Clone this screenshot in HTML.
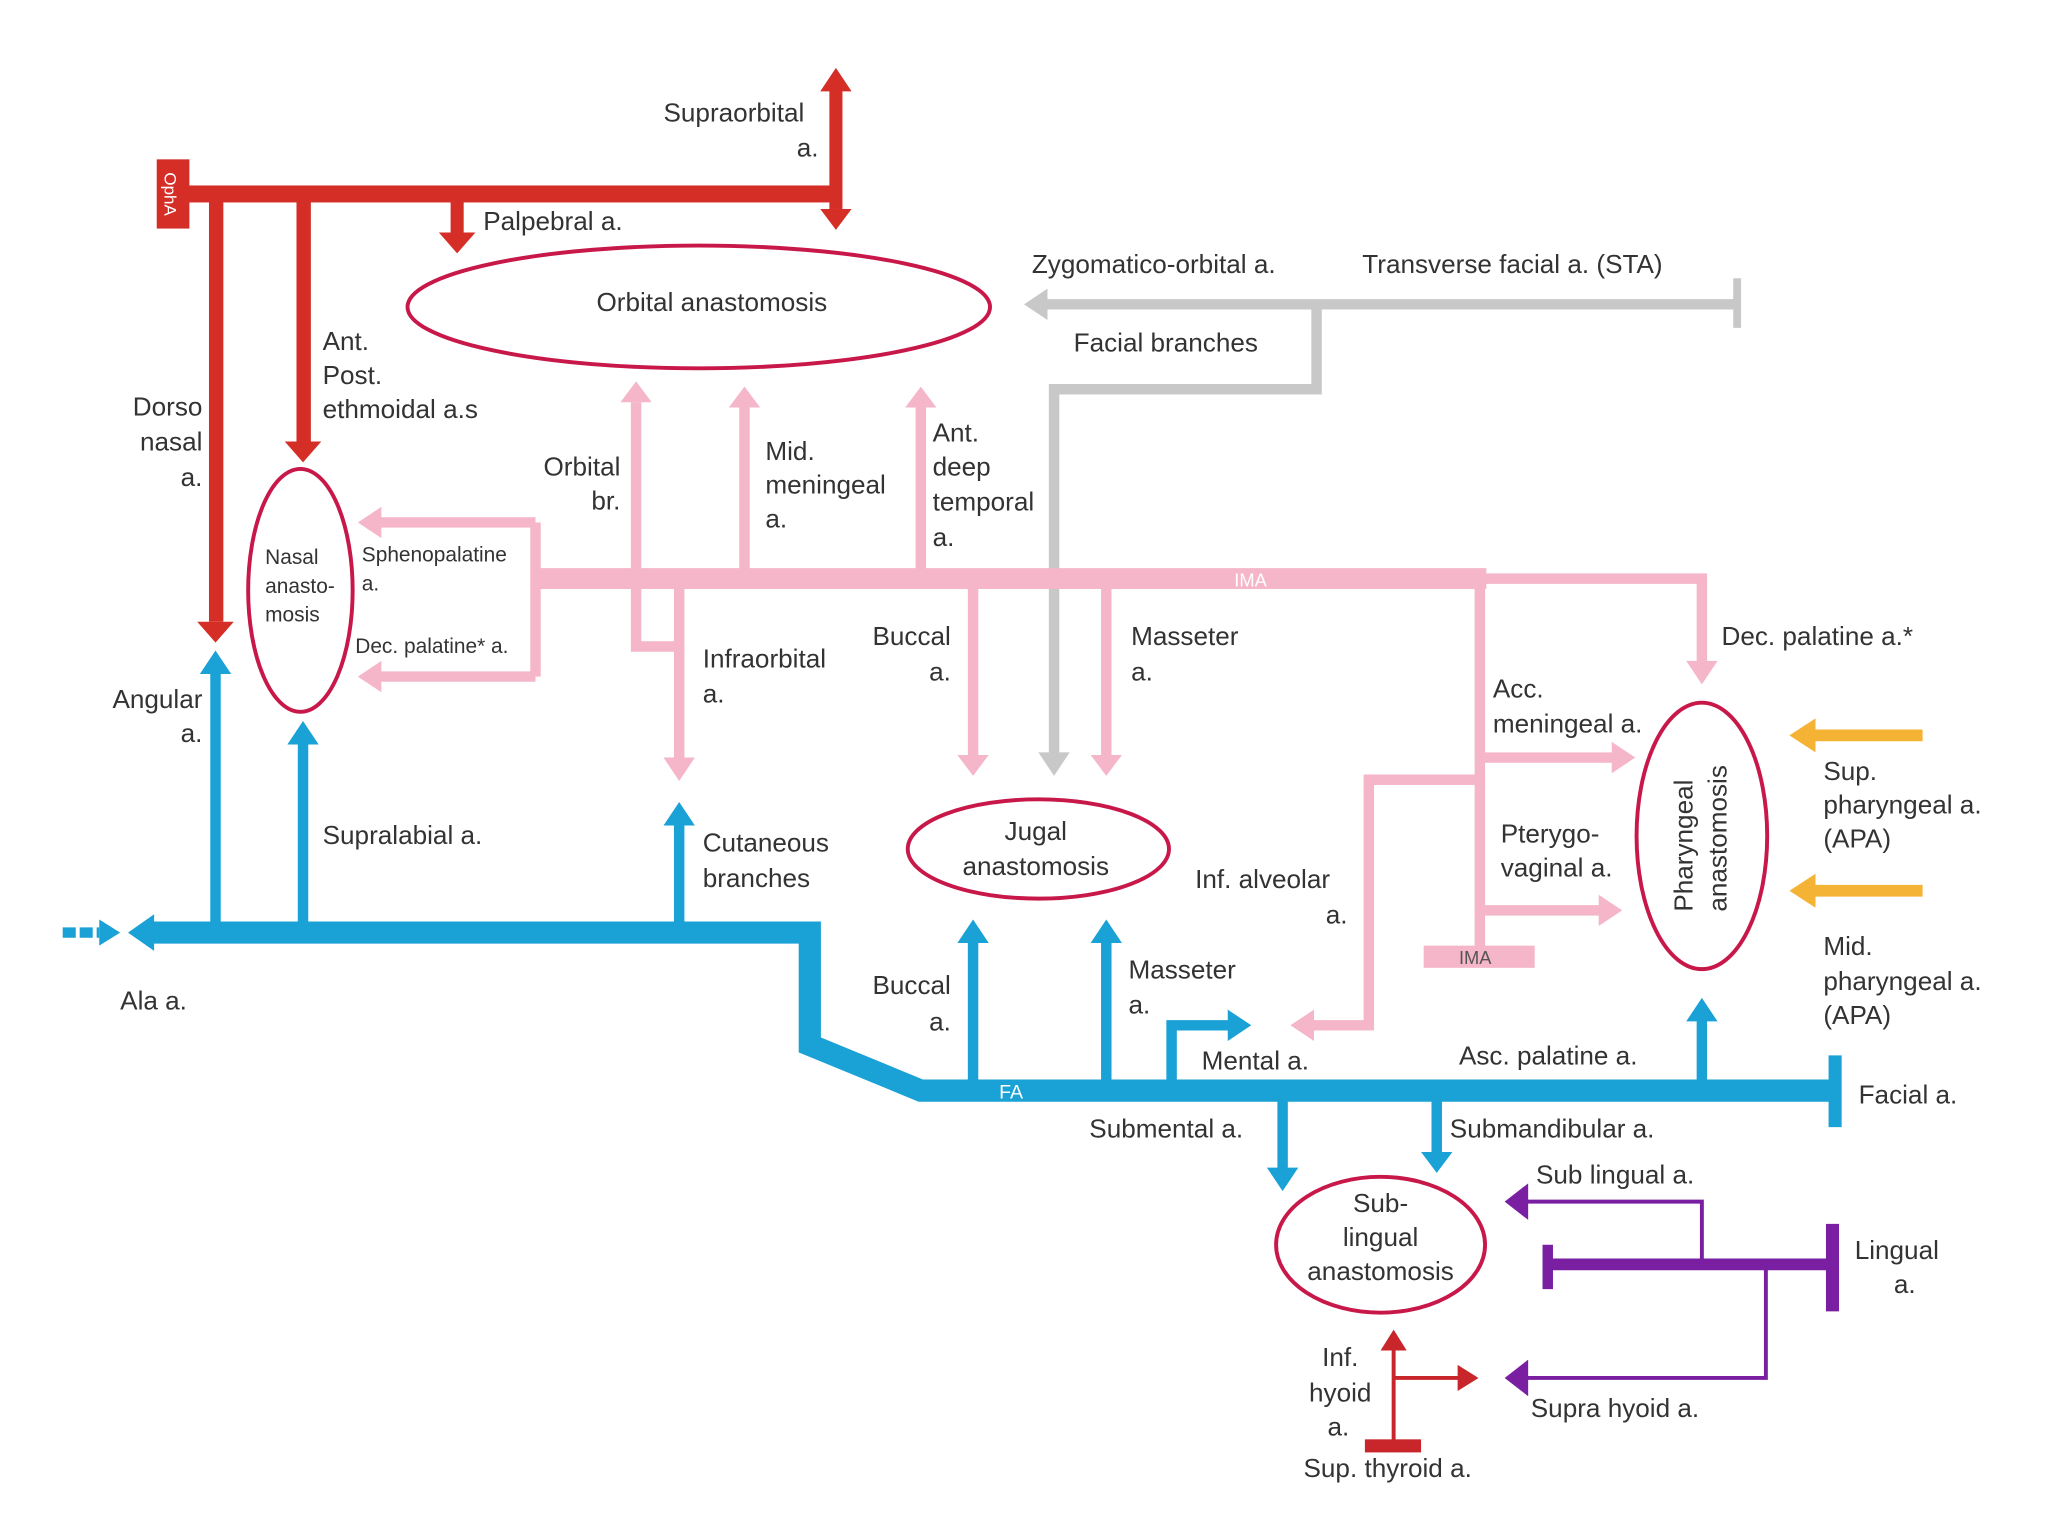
<!DOCTYPE html>
<html><head><style>
html,body{margin:0;padding:0;background:#fff;}
svg{display:block;}
text{font-family:"Liberation Sans",sans-serif;font-size:20px;fill:#333;}
.s{font-size:16px;}
</style></head><body>
<svg width="2048" height="1536" viewBox="0 0 1568 1176" xmlns="http://www.w3.org/2000/svg">
<defs>
<marker id="r" markerWidth="4" markerHeight="4" refX="2" refY="2" orient="auto" markerUnits="strokeWidth"><path d="M0,0L4,2L0,4z" fill="#d42e27"/></marker>
</defs>
<!-- RED OphA -->
<g fill="#d42e27">
<rect x="130" y="142" width="510" height="13"/>
<rect x="120" y="122" width="25" height="53"/>
<rect x="635" y="68" width="10" height="92"/>
<path d="M628,70L640,52L652,70z M628,160L640,176L652,160z"/>
<rect x="345" y="148" width="10" height="30"/><path d="M336,178L350,194L364,178z"/>
<rect x="160" y="148" width="11" height="328"/><path d="M151,476L165,492L179,476z"/>
<rect x="227" y="148" width="11" height="192"/><path d="M218,338L232,354L246,338z"/>
</g>
<text x="0" y="0" transform="translate(126,132) rotate(90)" style="font-size:13px;fill:#fff">OphA</text>
<text x="508" y="93">Supraorbital</text><text x="610" y="120">a.</text>
<text x="370" y="176">Palpebral a.</text>
<text x="247" y="268">Ant.</text><text x="247" y="294">Post.</text><text x="247" y="320">ethmoidal a.s</text>
<text x="155" y="318" text-anchor="end">Dorso</text><text x="155" y="345" text-anchor="end">nasal</text><text x="155" y="372" text-anchor="end">a.</text>
<!-- ellipses -->
<g fill="none" stroke="#c8184a" stroke-width="3">
<ellipse cx="535" cy="235" rx="223" ry="47"/>
<ellipse cx="230" cy="452" rx="40" ry="93"/>
<ellipse cx="795" cy="650" rx="100" ry="38"/>
<ellipse cx="1303" cy="640" rx="50" ry="102"/>
<ellipse cx="1057" cy="953" rx="80" ry="52"/>
</g>
<text x="545" y="238" text-anchor="middle">Orbital anastomosis</text>
<text x="203" y="432" class="s">Nasal</text><text x="203" y="454" class="s">anasto-</text><text x="203" y="476" class="s">mosis</text>
<text x="793" y="643" text-anchor="middle">Jugal</text><text x="793" y="670" text-anchor="middle">anastomosis</text>
<text transform="translate(1296,698) rotate(-90)">Pharyngeal</text>
<text transform="translate(1322,698) rotate(-90)">anastomosis</text>
<text x="1057" y="928" text-anchor="middle">Sub-</text><text x="1057" y="954" text-anchor="middle">lingual</text><text x="1057" y="980" text-anchor="middle">anastomosis</text>
<!-- GREY -->
<g fill="none" stroke="#c8c8c8" stroke-width="8">
<path d="M800,233H1330"/><path d="M1330,213V251" stroke-width="6"/>
<path d="M1008,233V298H807V578"/>
</g>
<g fill="#c8c8c8"><path d="M802,221L784,233L802,245z"/><path d="M795,576L807,594L819,576z"/></g>
<text x="790" y="209">Zygomatico-orbital a.</text><text x="1043" y="209">Transverse facial a. (STA)</text>
<text x="822" y="269">Facial branches</text>
<!-- PINK -->
<g fill="none" stroke="#f4b6c8" stroke-width="8">
<path d="M410,443H1138" stroke-width="16"/>
<path d="M410,400V518"/>
<path d="M410,400H290"/><path d="M410,518H290"/>
<path d="M520,495H487V308"/>
<path d="M520,443V580"/>
<path d="M570,443V312"/>
<path d="M705,443V312"/>
<path d="M745,443V578"/>
<path d="M847,443V578"/>
<path d="M1133,443V726"/>
<path d="M1133,443H1303V508"/>
<path d="M1133,580H1236"/>
<path d="M1133,697H1226"/>
<path d="M1133,597H1048V785H1004"/>
</g>
<g fill="#f4b6c8">
<path d="M292,388L274,400L292,412z"/><path d="M292,506L274,518L292,530z"/>
<path d="M475,308L487,292L499,308z"/><path d="M558,312L570,296L582,312z"/><path d="M693,312L705,296L717,312z"/>
<path d="M508,580L520,598L532,580z"/><path d="M733,578L745,594L757,578z"/><path d="M835,578L847,594L859,578z"/>
<path d="M1291,506L1303,524L1315,506z"/>
<path d="M1234,568L1252,580L1234,592z"/><path d="M1224,685L1242,697L1224,709z"/>
<path d="M1006,773L988,785L1006,797z"/>
<rect x="1090" y="724" width="85" height="17"/>
</g>
<text x="945" y="449" style="font-size:14px;fill:#fff">IMA</text>
<text x="1117" y="738" style="font-size:14px;fill:#555">IMA</text>
<text x="277" y="430" class="s">Sphenopalatine</text><text x="277" y="452" class="s">a.</text>
<text x="272" y="500" class="s">Dec. palatine* a.</text>
<text x="475" y="364" text-anchor="end">Orbital</text><text x="475" y="390" text-anchor="end">br.</text>
<text x="586" y="352">Mid.</text><text x="586" y="378">meningeal</text><text x="586" y="404">a.</text>
<text x="714" y="338">Ant.</text><text x="714" y="364">deep</text><text x="714" y="391">temporal</text><text x="714" y="418">a.</text>
<text x="538" y="511">Infraorbital</text><text x="538" y="538">a.</text>
<text x="728" y="494" text-anchor="end">Buccal</text><text x="728" y="521" text-anchor="end">a.</text>
<text x="866" y="494">Masseter</text><text x="866" y="521">a.</text>
<text x="1318" y="494">Dec. palatine a.*</text>
<text x="1143" y="534">Acc.</text><text x="1143" y="561">meningeal a.</text>
<text x="1149" y="645">Pterygo-</text><text x="1149" y="671">vaginal a.</text>
<text x="915" y="680">Inf. alveolar</text><text x="1015" y="707">a.</text>
<!-- BLUE -->
<g fill="none" stroke="#1aa1d6">
<path d="M112,714H620V800L705,835H1405" stroke-width="17"/>
<path d="M1405,808V863" stroke-width="10"/>
<path d="M48,714H76" stroke-width="8" stroke-dasharray="10,3"/>
<g stroke-width="8">
<path d="M165,714V514"/><path d="M232,714V568"/><path d="M520,714V630"/>
<path d="M745,835V720"/><path d="M847,835V720"/>
<path d="M897,835V785H942"/>
<path d="M982,835V896"/><path d="M1100,835V884"/>
<path d="M1303,835V780"/>
</g></g>
<g fill="#1aa1d6">
<path d="M118,700L98,714L118,728z"/><path d="M76,704L92,714L76,724z"/>
<path d="M153,516L165,498L177,516z"/><path d="M220,570L232,552L244,570z"/><path d="M508,632L520,614L532,632z"/>
<path d="M733,722L745,704L757,722z"/><path d="M835,722L847,704L859,722z"/>
<path d="M940,773L958,785L940,797z"/>
<path d="M970,894L982,912L994,894z"/><path d="M1088,882L1100,898L1112,882z"/>
<path d="M1291,782L1303,764L1315,782z"/>
</g>
<text x="765" y="841" style="font-size:15px;fill:#fff">FA</text>
<text x="155" y="542" text-anchor="end">Angular</text><text x="155" y="568" text-anchor="end">a.</text>
<text x="247" y="646">Supralabial a.</text>
<text x="538" y="652">Cutaneous</text><text x="538" y="679">branches</text>
<text x="92" y="773">Ala a.</text>
<text x="728" y="761" text-anchor="end">Buccal</text><text x="728" y="789" text-anchor="end">a.</text>
<text x="864" y="749">Masseter</text><text x="864" y="776">a.</text>
<text x="920" y="819">Mental a.</text>
<text x="1117" y="815">Asc. palatine a.</text>
<text x="1423" y="845">Facial a.</text>
<text x="834" y="871">Submental a.</text>
<text x="1110" y="871">Submandibular a.</text>
<!-- ORANGE -->
<g stroke="#f5b335" stroke-width="9"><path d="M1472,563H1388"/><path d="M1472,682H1388"/></g>
<g fill="#f5b335"><path d="M1390,550L1370,563L1390,576z"/><path d="M1390,669L1370,682L1390,695z"/></g>
<text x="1396" y="597">Sup.</text><text x="1396" y="623">pharyngeal a.</text><text x="1396" y="649">(APA)</text>
<text x="1396" y="731">Mid.</text><text x="1396" y="758">pharyngeal a.</text><text x="1396" y="784">(APA)</text>
<!-- PURPLE -->
<g fill="none" stroke="#7a1fa2">
<path d="M1185,968H1403" stroke-width="9"/>
<path d="M1403,937V1004" stroke-width="10"/><path d="M1185,953V987" stroke-width="8"/>
<path d="M1303,968V920H1168" stroke-width="3"/>
<path d="M1352,968V1055H1168" stroke-width="3"/>
</g>
<g fill="#7a1fa2"><path d="M1170,906L1152,920L1170,934z"/><path d="M1170,1041L1152,1055L1170,1069z"/></g>
<text x="1176" y="906">Sub lingual a.</text>
<text x="1420" y="964">Lingual</text><text x="1450" y="990">a.</text>
<text x="1172" y="1085">Supra hyoid a.</text>
<!-- small red -->
<g stroke="#c8262a" fill="none" stroke-width="3"><path d="M1067,1105V1032"/><path d="M1067,1055H1118"/></g>
<g fill="#c8262a"><path d="M1057,1034L1067,1018L1077,1034z"/><path d="M1116,1045L1132,1055L1116,1065z"/><rect x="1045" y="1102" width="43" height="10"/></g>
<text x="1040" y="1046" text-anchor="end">Inf.</text><text x="1050" y="1073" text-anchor="end">hyoid</text><text x="1033" y="1099" text-anchor="end">a.</text>
<text x="998" y="1131">Sup. thyroid a.</text>
</svg>
</body></html>
